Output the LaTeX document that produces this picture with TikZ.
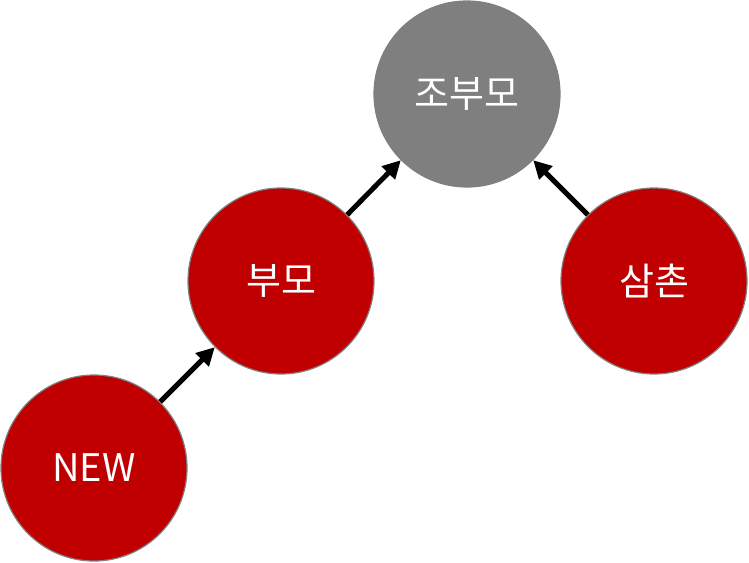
\documentclass[tikz,border=0pt]{standalone}
\usepackage{fontspec}
\newfontfamily\kfont{Noto Sans CJK KR}
\usetikzlibrary{arrows.meta}
\definecolor{nodered}{HTML}{C00000}
\definecolor{nodegray}{HTML}{7F7F7F}
\begin{document}
\begin{tikzpicture}[x=1pt,y=-1pt,
  circ/.style={circle,minimum size=186pt,inner sep=0pt,line width=1.2pt,
    text=white,font=\kfont\fontsize{38}{44}\selectfont},
  rednode/.style={circ,fill=nodered,draw=gray},
  graynode/.style={circ,fill=nodegray,draw=nodegray},
  link/.style={line width=5pt,-{Triangle[length=18pt,width=18pt]}}]
\useasboundingbox (0,0) rectangle (749,562);
\node[graynode] (gp) at (467,94) {조부모};
\node[rednode] (p) at (281,281) {부모};
\node[rednode] (u) at (654,281) {삼촌};
\node[rednode] (n) at (94,468) {NEW};
\draw[link] (n.45) -- (p.225);
\draw[link] (p.45) -- (gp.225);
\draw[link] (u.135) -- (gp.315);
\end{tikzpicture}
\end{document}
